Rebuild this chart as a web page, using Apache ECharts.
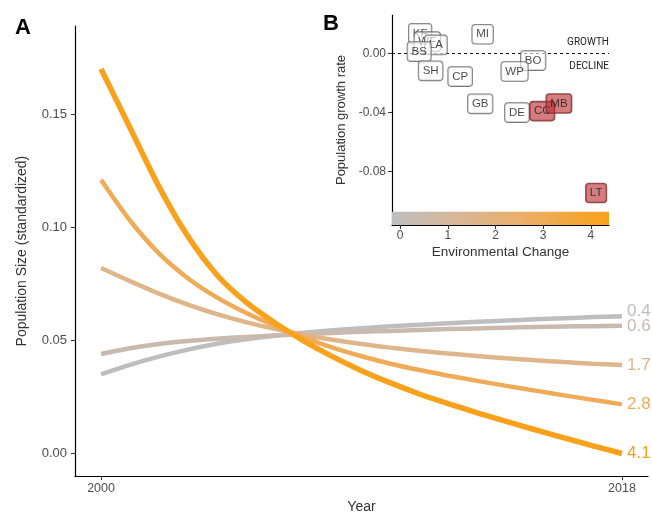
<!DOCTYPE html>
<html>
<head>
<meta charset="utf-8">
<script src="https://cdn.jsdelivr.net/npm/echarts@6/dist/echarts.min.js"></script>
<style>html,body{margin:0;padding:0;background:#fff}#c{width:652px;height:519px}</style>
</head>
<body>
<div id="c"></div>
<script>
// ---- Panel A data ----
const years = [2000,2001,2002,2003,2004,2005,2006,2007,2008,2009,2010,2011,2012,2013,2014,2015,2016,2017,2018];
const lineNames = ['0.4','0.6','1.7','2.8','4.1'];
const pop04 = [0.035,0.0392,0.0428,0.0459,0.0485,0.0505,0.0521,0.0534,0.0545,0.0554,0.0562,0.0569,0.0576,0.0582,0.0588,0.0593,0.0598,0.0603,0.0607];
const pop06 = [0.044,0.0465,0.0484,0.0497,0.0507,0.0515,0.0522,0.0528,0.0533,0.0538,0.0542,0.0546,0.055,0.0553,0.0556,0.0559,0.0561,0.0563,0.0565];
const pop17 = [0.082,0.0762,0.0707,0.0658,0.0616,0.0581,0.0551,0.0525,0.0503,0.0484,0.0468,0.0454,0.0442,0.0431,0.0421,0.0412,0.0404,0.0397,0.0391];
const pop28 = [0.121,0.103,0.0885,0.0775,0.069,0.0622,0.0565,0.0513,0.0468,0.043,0.0397,0.0369,0.0344,0.0321,0.0299,0.0278,0.0257,0.0237,0.0217];
const pop41 = [0.170,0.144,0.118,0.096,0.079,0.067,0.0578,0.0498,0.0428,0.0366,0.0312,0.0263,0.0220,0.0180,0.0142,0.0105,0.0069,0.0034,0.0000];
const yearTicks = [2000, 2018];
const popTicks = [0, 0.05, 0.10, 0.15];

// ---- Panel B data ----
const sites = ['KF','WF','LA','BS','MI','SH','CP','GB','BO','WP','DE','CC','MB','LT'];
const envChange = [0.42,0.57,0.75,0.40,1.73,0.64,1.26,1.68,2.79,2.40,2.45,2.98,3.33,4.11];
const growthRate = [0.0134,0.0078,0.0056,0.0011,0.0128,-0.0119,-0.0158,-0.0342,-0.0050,-0.0124,-0.0401,-0.0391,-0.0340,-0.0944];
const significantDecline = [false,false,false,false,false,false,false,false,false,false,false,true,true,true];
const envTicks = [0,1,2,3,4];
const rateTicks = [0, -0.04, -0.08];
const gradientBand = [[-0.17, -0.116], [4.38, -0.107]];

const lineColors = ['#BEBEBE','#C9B9AF','#DFB68A','#EFAB58','#F9A11B'];
const lineWidths = [4.5,4.5,4.5,4.5,5.5];
const labelOffsets = [[0,-5],[0,1],[0,0],[0,0],[0,0]];
const popSeries = [pop04, pop06, pop17, pop28, pop41];

const FONT = '"Liberation Sans", Arial, sans-serif';

const series = popSeries.map((vals, i) => ({
  type: 'line',
  name: lineNames[i],
  xAxisIndex: 0, yAxisIndex: 0,
  data: years.map((y, j) => [y, vals[j]]),
  smooth: 0.3,
  showSymbol: false,
  lineStyle: { color: lineColors[i], width: lineWidths[i], cap: 'butt' },
  itemStyle: { color: lineColors[i] },
  z: 2 + i,
  endLabel: {
    show: true,
    formatter: lineNames[i],
    color: lineColors[i],
    fontSize: 17,
    fontFamily: FONT,
    distance: 5,
    offset: labelOffsets[i]
  },
  silent: true
}));

series.push({
  type: 'scatter',
  xAxisIndex: 1, yAxisIndex: 1,
  symbolSize: 0,
  data: sites.map((s, i) => ({
    name: s,
    value: [envChange[i], growthRate[i]],
    label: significantDecline[i]
      ? { backgroundColor: 'rgba(186,46,51,0.78)', borderColor: '#6b2a2a' }
      : { backgroundColor: 'rgba(255,255,255,0.75)', borderColor: '#555' }
  })),
  label: {
    show: true,
    position: 'inside',
    formatter: p => p.name,
    fontSize: 11.5,
    fontFamily: FONT,
    color: '#1a1a1a',
    padding: [4, 4, 3, 4],
    borderWidth: 0.8,
    borderRadius: 3
  },
  labelLayout: { hideOverlap: false },
  markLine: {
    silent: true,
    symbol: 'none',
    lineStyle: { type: [3, 3], color: '#111', width: 1 },
    data: [
      { yAxis: 0, label: { show: true, position: 'insideEndTop', formatter: 'GROWTH', color: '#222', fontSize: 10, fontFamily: 'Roboto, sans-serif', distance: [0, 6] } },
      { yAxis: 0, label: { show: true, position: 'insideEndBottom', formatter: 'DECLINE', color: '#222', fontSize: 10, fontFamily: 'Roboto, sans-serif', distance: [0, 8] } }
    ]
  },
  markArea: {
    silent: true,
    itemStyle: {
      color: { type: 'linear', x: 0, y: 0, x2: 1, y2: 0,
        colorStops: [
          { offset: 0, color: '#BEBEBE' },
          { offset: 0.3, color: '#D8B697' },
          { offset: 0.6, color: '#EBAF68' },
          { offset: 1, color: '#F9A11B' }
        ] }
    },
    data: [[{ xAxis: gradientBand[0][0], yAxis: gradientBand[0][1] }, { xAxis: gradientBand[1][0], yAxis: gradientBand[1][1] }]]
  },
  z: 10
});

const axisLine = { show: true, onZero: false, lineStyle: { color: '#000', width: 1.2 } };
const axisTick = (vals) => ({ show: true, customValues: vals, length: 4, lineStyle: { color: '#333', width: 1 } });

const option = {
  animation: false,
  backgroundColor: '#fff',
  title: [
    { text: 'A', left: 10, top: 12, textStyle: { fontSize: 22, fontWeight: 'bold', color: '#000', fontFamily: FONT } },
    { text: 'B', left: 318, top: 8, textStyle: { fontSize: 22, fontWeight: 'bold', color: '#000', fontFamily: FONT } }
  ],
  grid: [
    { left: 75, right: 4, top: 26, bottom: 34 },
    { left: 392, right: 43, top: 15, bottom: 294 }
  ],
  xAxis: [
    {
      type: 'value', gridIndex: 0, min: 1999.1, max: 2018.9,
      name: 'Year', nameLocation: 'middle', nameGap: 20,
      nameTextStyle: { fontSize: 14, color: '#333', fontFamily: FONT },
      axisLine, axisTick: axisTick(yearTicks),
      axisLabel: { customValues: yearTicks, formatter: v => String(v), fontSize: 12.5, color: '#4D4D4D', fontFamily: FONT, margin: 6 },
      splitLine: { show: false }
    },
    {
      type: 'value', gridIndex: 1, min: gradientBand[0][0], max: gradientBand[1][0],
      name: 'Environmental Change', nameLocation: 'middle', nameGap: 20,
      nameTextStyle: { fontSize: 13.5, color: '#333', fontFamily: FONT },
      axisLine, axisTick: axisTick(envTicks),
      axisLabel: { customValues: envTicks, formatter: v => String(v), fontSize: 12, color: '#4D4D4D', fontFamily: FONT, margin: 5 },
      splitLine: { show: false }
    }
  ],
  yAxis: [
    {
      type: 'value', gridIndex: 0, min: -0.01, max: 0.189,
      name: 'Population Size (standardized)', nameLocation: 'middle', nameGap: 46,
      nameTextStyle: { fontSize: 14, color: '#333', fontFamily: FONT },
      axisLine, axisTick: axisTick(popTicks),
      axisLabel: { customValues: popTicks, formatter: v => v.toFixed(2), fontSize: 13, color: '#4D4D4D', fontFamily: FONT, margin: 8 },
      splitLine: { show: false }
    },
    {
      type: 'value', gridIndex: 1, min: gradientBand[0][1], max: 0.0258,
      name: 'Population growth rate', nameLocation: 'middle', nameGap: 44,
      nameTextStyle: { fontSize: 13, color: '#333', fontFamily: FONT },
      axisLine, axisTick: axisTick(rateTicks),
      axisLabel: { customValues: rateTicks, formatter: v => v.toFixed(2), fontSize: 12, color: '#4D4D4D', fontFamily: FONT, margin: 6 },
      splitLine: { show: false }
    }
  ],
  series
};

const chart = echarts.init(document.getElementById('c'), null, { renderer: 'canvas' });
chart.setOption(option);
</script>
</body>
</html>
